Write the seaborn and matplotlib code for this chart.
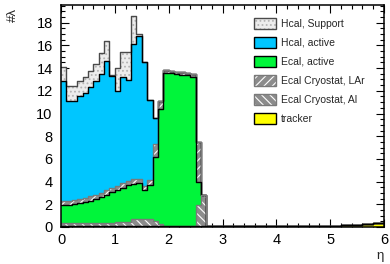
import numpy as np
import pandas as pd
import matplotlib
matplotlib.use("Agg")
import matplotlib.pyplot as plt
import seaborn as sns
from matplotlib.patches import Patch
from matplotlib.legend_handler import HandlerTuple
from matplotlib.ticker import MultipleLocator

# eta binning: 60 bins of 0.1 between 0 and 6
eta_centers = np.round(np.arange(60) * 0.1 + 0.05, 3)

# interaction lengths per bin, stacked bottom -> top
tracker = [0.08] * 30 + [0.10] * 20 + [0.12, 0.13, 0.15, 0.17, 0.20, 0.22, 0.25, 0.28, 0.32, 0.38]
cryo_al = [0.28] * 10 + [0.40] * 3 + [0.65] * 4 + [0.45, 0.20] + [0.0] * 6 + [1.90, 2.70] + [0.0] * 33
ecal_active = [1.55, 1.57, 1.64, 1.73, 1.82, 1.97, 2.11, 2.29, 2.50, 2.70,
               2.76, 2.99, 3.20, 3.10, 3.12, 2.51, 3.01, 5.67, 10.08, 13.52,
               13.47, 13.37, 13.32, 13.27, 13.17, 2.02] + [0.0] * 34
cryo_lar = [0.36] * 10 + [0.40] * 7 + [1.10, 0.74] + [0.22] * 6 + [3.50] + [0.0] * 34
hcal_active = [10.59, 8.81, 8.74, 9.05, 9.31, 9.61, 10.07, 10.49, 11.38, 9.88,
               8.36, 9.33, 8.87, 11.87, 12.55, 10.86, 7.06, 2.26] + [0.0] * 42
hcal_support = [1.20, 1.30, 1.30, 1.40, 1.40, 1.45, 1.45, 1.80, 1.80, 0.10,
                2.00, 2.25, 2.50, 2.50, 0.20] + [0.0] * 45

layer_names = ["tracker", "Ecal Cryostat, Al", "Ecal, active",
               "Ecal Cryostat, LAr", "Hcal, active", "Hcal, Support"]
layers = [tracker, cryo_al, ecal_active, cryo_lar, hcal_active, hcal_support]
legend_order = ["Hcal, Support", "Hcal, active", "Ecal, active",
                "Ecal Cryostat, LAr", "Ecal Cryostat, Al", "tracker"]

# style per layer: face, hatch, hatch colour, outline
styles = {
    "tracker": ("#ffff00", None, "#ffff00", "#000000"),
    "Ecal Cryostat, Al": ("#8c8c8c", "\\\\\\\\", "#ffffff", "#7a7a7a"),
    "Ecal, active": ("#00f53a", None, "#00f53a", "#000000"),
    "Ecal Cryostat, LAr": ("#8c8c8c", "////", "#ffffff", "#7a7a7a"),
    "Hcal, active": ("#00c6ff", None, "#00c6ff", "#000000"),
    "Hcal, Support": ("#ececec", "....", "#b4b4b4", "#4a4a4a"),
}

sns.set_style("ticks")
plt.rcParams["font.family"] = ["Liberation Sans", "DejaVu Sans"]
plt.rcParams["hatch.linewidth"] = 0.8

fig = plt.figure(figsize=(3.9, 2.64), dpi=100)
ax = fig.add_axes([61 / 390, 1 - 227 / 264, (384 - 61) / 390, (227 - 5) / 264])

tops = np.cumsum(np.array(layers), axis=0)
df = pd.DataFrame({"eta": eta_centers})
for i, name in enumerate(layer_names):
    df[name] = tops[i]

# ROOT-like stack: draw cumulative totals from the top layer down
for name in reversed(layer_names):
    face, hatch, hcol, line = styles[name]
    sns.histplot(data=df, x="eta", weights=name, binwidth=0.1, binrange=(0, 6),
                 element="step", fill=True, color=face, alpha=1, linewidth=0,
                 edgecolor=hcol, hatch=hatch, ax=ax)
    sns.histplot(data=df, x="eta", weights=name, binwidth=0.1, binrange=(0, 6),
                 element="step", fill=False, color=line, linewidth=1.0, ax=ax)

ax.set_xlim(0, 6)
ax.set_ylim(0, 19.56)
ax.set_xlabel("")
ax.set_ylabel("")
ax.xaxis.set_major_locator(MultipleLocator(1))
ax.xaxis.set_minor_locator(MultipleLocator(0.2))
ax.yaxis.set_major_locator(MultipleLocator(2))
ax.yaxis.set_minor_locator(MultipleLocator(0.5))
ax.tick_params(which="both", direction="in", top=True, right=True, width=0.8, colors="black")
ax.tick_params(which="major", length=5.5, labelsize=10.5)
ax.tick_params(axis="x", which="major", pad=4)
ax.tick_params(axis="y", which="major", pad=6)
ax.tick_params(which="minor", length=2.8)
for sp in ax.spines.values():
    sp.set_linewidth(1.1)
    sp.set_color("black")

fig.text(13 / 390, 1 - 15 / 264, "#λ", rotation=90, ha="center", va="center", fontsize=9.5)
fig.text(380 / 390, 1 - 256 / 264, "η", ha="center", va="center", fontsize=9.5)

# legend in the original order, top to bottom
handles = []
for name in legend_order:
    face, hatch, hcol, line = styles[name]
    fill = Patch(facecolor=face, edgecolor=hcol, hatch=hatch, linewidth=0)
    frame = Patch(facecolor="none", edgecolor=line, linewidth=1.0)
    handles.append((fill, frame))

ax.legend(handles, legend_order, handler_map={tuple: HandlerTuple(ndivide=1, pad=0)},
          loc="upper left", bbox_to_anchor=(254 / 390, 1 - 18 / 264),
          bbox_transform=fig.transFigure, frameon=False, fontsize=7.5,
          handlelength=2.15, handleheight=1.25, labelspacing=0.76,
          handletextpad=0.42, borderpad=0, borderaxespad=0)

fig.savefig("out.png", dpi=100)
